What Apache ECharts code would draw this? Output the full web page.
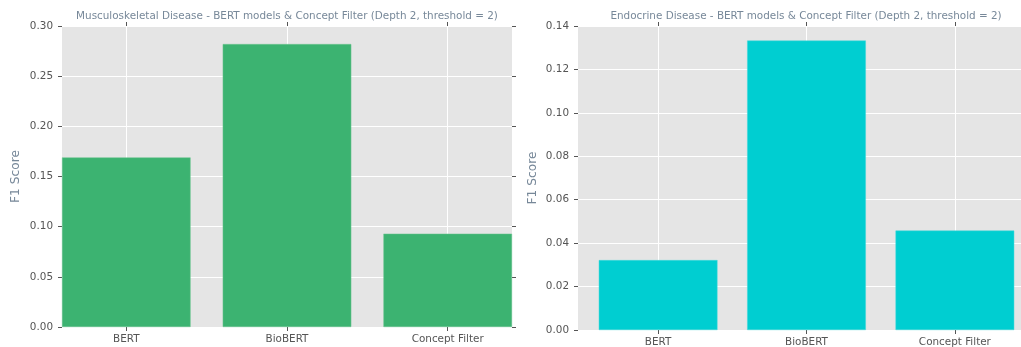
<!DOCTYPE html>
<html>
<head>
<meta charset="utf-8">
<script src="https://cdn.jsdelivr.net/npm/echarts@6/dist/echarts.min.js"></script>
<style>html,body{margin:0;padding:0;background:#fff}#c{width:1021px;height:347px}</style>
</head>
<body>
<div id="c"></div>
<script>
const categories = ['BERT', 'BioBERT', 'Concept Filter'];
const muscValues = [0.169, 0.282, 0.093];
const endoValues = [0.0322, 0.1333, 0.0458];
const muscTitle = 'Musculoskeletal Disease - BERT models & Concept Filter (Depth 2, threshold = 2)';
const endoTitle = 'Endocrine Disease - BERT models & Concept Filter (Depth 2, threshold = 2)';
const yName = 'F1 Score';
const muscYMax = 0.30, muscYStep = 0.05;
const endoYMax = 0.14, endoYStep = 0.02;

const FONT = 'DejaVu Sans';
const FS = 10.4;
const catIdx = categories.map((c, i) => i);
const tickColor = '#555555';
const labelColor = '#555555';
const slate = '#778899';

function xAxes(gridIndex, min, max) {
  return [{
    type: 'value', gridIndex, min, max, position: 'bottom',
    axisLine: { show: false, onZero: false },
    axisTick: { show: true, customValues: catIdx, length: 4, lineStyle: { color: tickColor } },
    axisLabel: { show: true, customValues: catIdx, margin: 7, color: labelColor, fontFamily: FONT, fontSize: FS,
      formatter: v => categories[Math.round(v)] },
    splitLine: { show: true, lineStyle: { color: '#ffffff', width: 1 } }
  }, {
    type: 'value', gridIndex, min, max, position: 'top',
    axisLine: { show: false, onZero: false },
    axisTick: { show: true, customValues: catIdx, length: 4, lineStyle: { color: tickColor } },
    axisLabel: { show: false },
    splitLine: { show: false }
  }];
}
function yAxes(gridIndex, max, step, gap) {
  return [{
    type: 'value', gridIndex, min: 0, max, interval: step, position: 'left',
    name: yName, nameLocation: 'middle', nameGap: gap,
    nameTextStyle: { color: slate, fontFamily: FONT, fontSize: 12.2 },
    axisLine: { show: false, onZero: false },
    axisTick: { show: true, length: 4, lineStyle: { color: tickColor } },
    axisLabel: { color: labelColor, fontFamily: FONT, fontSize: FS, margin: 9, formatter: v => v.toFixed(2) },
    splitLine: { show: true, lineStyle: { color: '#ffffff', width: 1 } }
  }, {
    type: 'value', gridIndex, min: 0, max, interval: step, position: 'right',
    axisLine: { show: false, onZero: false },
    axisTick: { show: true, length: 4, lineStyle: { color: tickColor } },
    axisLabel: { show: false },
    splitLine: { show: false }
  }];
}

const chart = echarts.init(document.getElementById('c'), null, { renderer: 'canvas' });
chart.setOption({
  animation: false,
  backgroundColor: '#ffffff',
  title: [
    { text: muscTitle, left: 287, top: 11, textAlign: 'center', padding: 0,
      textStyle: { color: slate, fontFamily: FONT, fontSize: FS, fontWeight: 'normal' } },
    { text: endoTitle, left: 806, top: 11, textAlign: 'center', padding: 0,
      textStyle: { color: slate, fontFamily: FONT, fontSize: FS, fontWeight: 'normal' } }
  ],
  grid: [
    { left: 62, width: 450, top: 26, bottom: 20, show: true, backgroundColor: '#e5e5e5', borderWidth: 0,
      containLabel: false, outerBoundsMode: 'none' },
    { left: 578, width: 457, top: 26, bottom: 17, show: true, backgroundColor: '#e5e5e5', borderWidth: 0,
      containLabel: false, outerBoundsMode: 'none' }
  ],
  xAxis: [...xAxes(0, -0.4, 2.4), ...xAxes(1, -0.54, 2.54)],
  yAxis: [...yAxes(0, muscYMax, muscYStep, 40), ...yAxes(1, endoYMax, endoYStep, 39)],
  series: [
    { type: 'bar', xAxisIndex: 0, yAxisIndex: 0, barWidth: '80%',
      itemStyle: { color: '#3cb371', borderColor: '#6cc590', borderWidth: 0.5 },
      data: muscValues.map((v, i) => [i, v]) },
    { type: 'bar', xAxisIndex: 2, yAxisIndex: 2, barWidth: '80%',
      itemStyle: { color: '#00ced1', borderColor: '#40d9db', borderWidth: 0.5 },
      data: endoValues.map((v, i) => [i, v]) }
  ]
});
</script>
</body>
</html>
